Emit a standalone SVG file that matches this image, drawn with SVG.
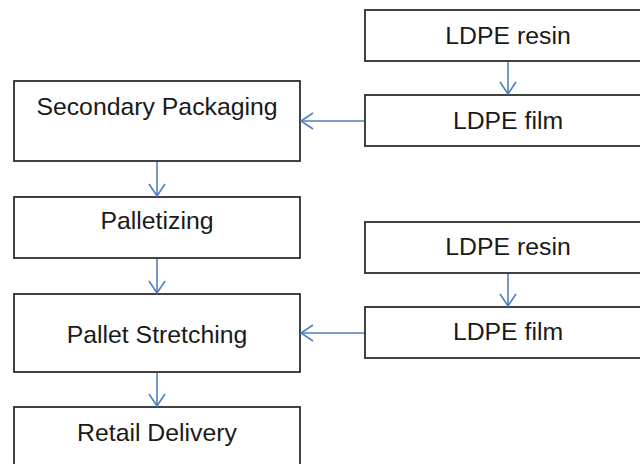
<svg xmlns="http://www.w3.org/2000/svg" width="640" height="464" viewBox="0 0 640 464">
  <style>
    .box { fill: #ffffff; stroke: #2e2e2e; stroke-width: 1.8; }
    .lbl { font-family: "Liberation Sans", Arial, sans-serif; font-size: 24.8px; fill: #1a1a1a; text-anchor: middle; }
    .link { stroke: #4f81bd; stroke-width: 1.6; fill: none; marker-end: url(#head); }
  </style>
  <defs>
    <marker id="head" viewBox="0 0 14 18" refX="13" refY="9" markerWidth="14" markerHeight="18" markerUnits="userSpaceOnUse" orient="auto">
      <path d="M1,1 L13,9 L1,17" fill="none" stroke="#4f81bd" stroke-width="1.6"/>
    </marker>
  </defs>
  <rect width="640" height="464" fill="#ffffff"/>

  <g id="sec-packaging">
    <rect class="box" x="14" y="81" width="286" height="80"/>
    <text class="lbl" x="157" y="115">Secondary Packaging</text>
  </g>
  <g id="palletizing">
    <rect class="box" x="14" y="197" width="286" height="61"/>
    <text class="lbl" x="157" y="229">Palletizing</text>
  </g>
  <g id="pallet-stretching">
    <rect class="box" x="14" y="294" width="286" height="78"/>
    <text class="lbl" x="157" y="343">Pallet Stretching</text>
  </g>
  <g id="retail-delivery">
    <rect class="box" x="14" y="407" width="286" height="80"/>
    <text class="lbl" x="157" y="441">Retail Delivery</text>
  </g>

  <g id="resin-1">
    <rect class="box" x="365" y="10" width="290" height="51"/>
    <text class="lbl" x="508" y="44">LDPE resin</text>
  </g>
  <g id="film-1">
    <rect class="box" x="365" y="95" width="290" height="51"/>
    <text class="lbl" x="508" y="129">LDPE film</text>
  </g>
  <g id="resin-2">
    <rect class="box" x="365" y="222" width="290" height="51"/>
    <text class="lbl" x="508" y="255">LDPE resin</text>
  </g>
  <g id="film-2">
    <rect class="box" x="365" y="307" width="290" height="51"/>
    <text class="lbl" x="508" y="340">LDPE film</text>
  </g>

  <g id="connectors">
    <line class="link" x1="157" y1="162" x2="157" y2="196"/>
    <line class="link" x1="157" y1="259" x2="157" y2="293"/>
    <line class="link" x1="157" y1="373" x2="157" y2="406"/>
    <line class="link" x1="508" y1="62" x2="508" y2="94"/>
    <line class="link" x1="508" y1="274" x2="508" y2="306"/>
    <line class="link" x1="364" y1="121" x2="301" y2="121"/>
    <line class="link" x1="364" y1="333" x2="301" y2="333"/>
  </g>
</svg>
